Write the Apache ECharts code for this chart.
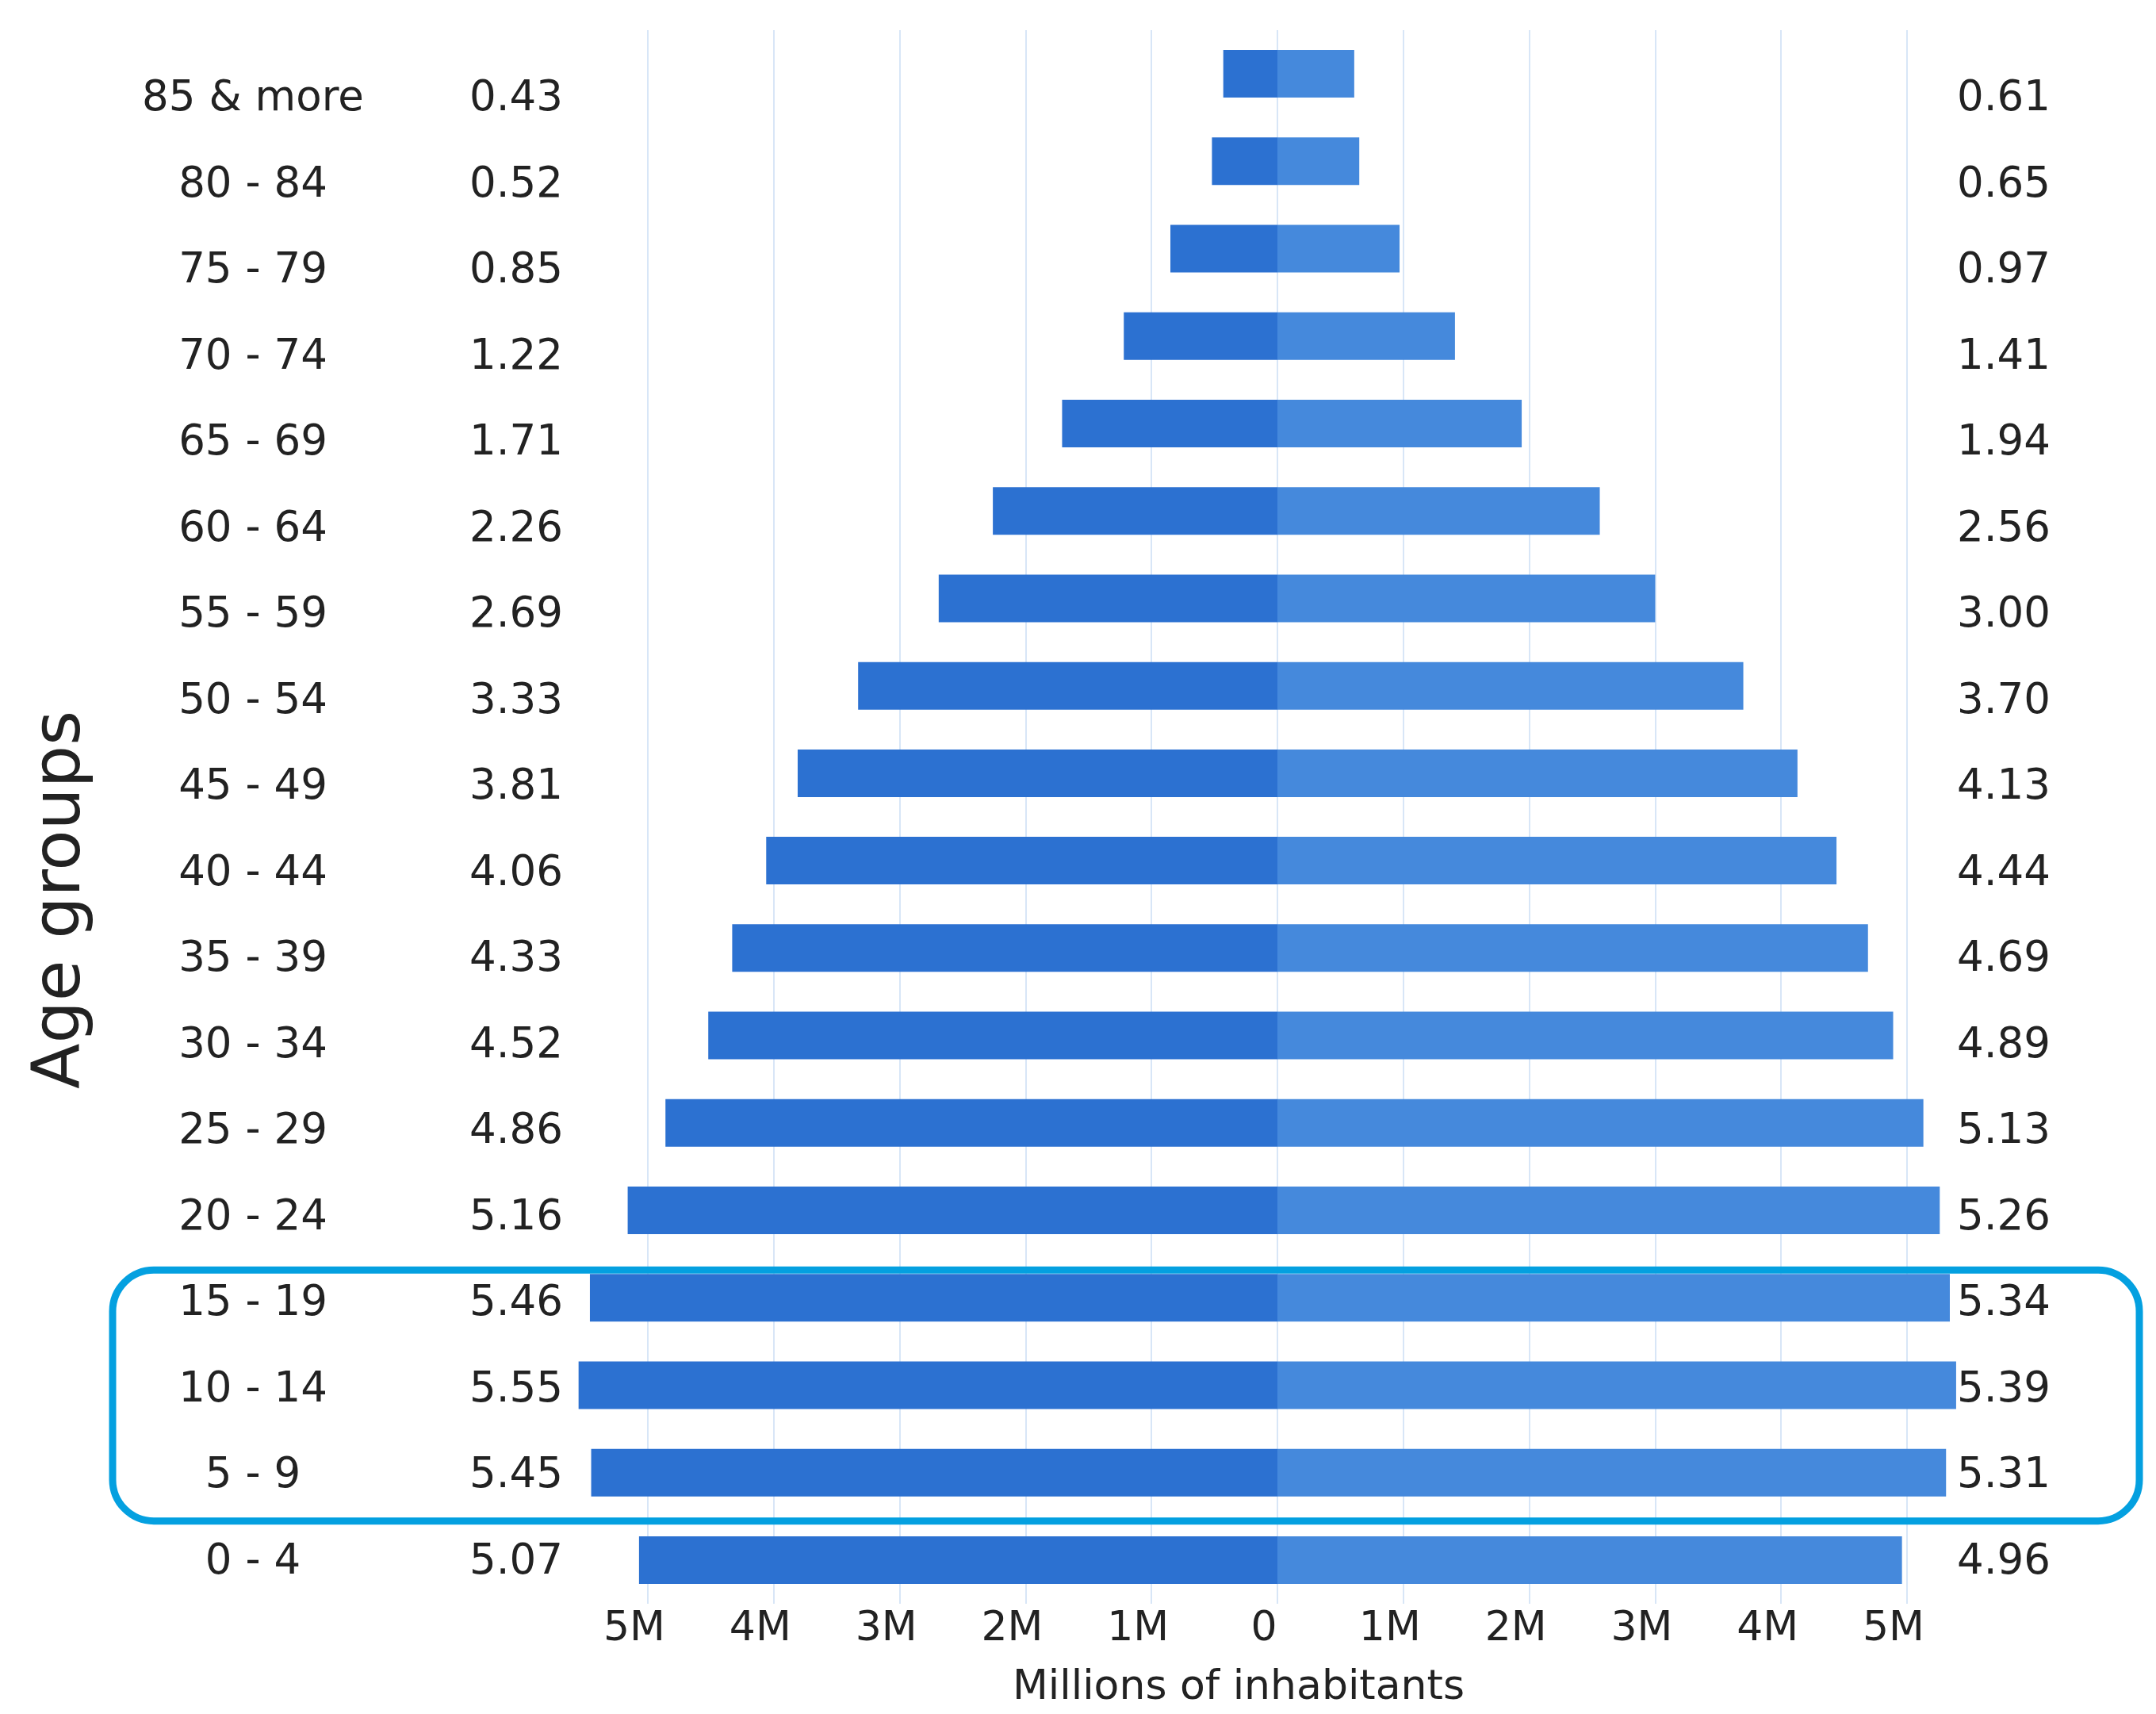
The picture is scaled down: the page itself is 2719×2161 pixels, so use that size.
<!DOCTYPE html>
<html>
<head>
<meta charset="utf-8">
<script src="https://cdn.jsdelivr.net/npm/echarts@6/dist/echarts.min.js"></script>
<style>
html,body{margin:0;padding:0;background:#ffffff;}
#chart{width:2719px;height:2161px;}
</style>
</head>
<body>
<div id="chart"></div>
<script>
// Age groups, listed top to bottom
var ageGroups = ['85 & more','80 - 84','75 - 79','70 - 74','65 - 69','60 - 64','55 - 59','50 - 54','45 - 49','40 - 44','35 - 39','30 - 34','25 - 29','20 - 24','15 - 19','10 - 14','5 - 9','0 - 4'];
// Left side values (millions)
var leftValues = [0.43,0.52,0.85,1.22,1.71,2.26,2.69,3.33,3.81,4.06,4.33,4.52,4.86,5.16,5.46,5.55,5.45,5.07];
// Right side values (millions)
var rightValues = [0.61,0.65,0.97,1.41,1.94,2.56,3.00,3.70,4.13,4.44,4.69,4.89,5.13,5.26,5.34,5.39,5.31,4.96];
// Axis ticks
var xTicks = [-5,-4,-3,-2,-1,0,1,2,3,4,5];
var xAxisTitle = 'Millions of inhabitants';
var yAxisTitle = 'Age groups';
var highlightGroups = ['15 - 19','5 - 9'];

var FONT = 'DejaVu Sans';
var chart = echarts.init(document.getElementById('chart'));

var option = {
  backgroundColor: '#ffffff',
  animation: false,
  grid: [
    {left: 817, right: 314, top: 38, bottom: 139, containLabel: false},
    {left: 700, right: 300, top: 71, bottom: 137, containLabel: false}
  ],
  xAxis: [
    {
      type: 'value', gridIndex: 0,
      min: xTicks[0], max: xTicks[xTicks.length - 1], interval: 1,
      axisLine: {show: false}, axisTick: {show: false},
      splitLine: {show: true, lineStyle: {color: '#d8e6f7', width: 2}},
      axisLabel: {
        show: true, margin: 6, color: '#222222', fontFamily: FONT, fontSize: 52,
        padding: [0, 34, 0, 0],
        formatter: function (v) { return v === 0 ? '0' : Math.abs(v) + 'M'; }
      },
      name: xAxisTitle, nameLocation: 'middle', nameGap: 80,
      nameTextStyle: {color: '#222222', fontFamily: FONT, fontSize: 52, padding: [0, 98, 0, 0]}
    },
    {type: 'value', gridIndex: 1, show: false, min: 0, max: 1}
  ],
  yAxis: [
    {
      type: 'category', gridIndex: 0, data: ageGroups, inverse: true,
      axisLine: {show: false}, axisTick: {show: false}, axisLabel: {show: false},
      splitLine: {show: false}
    },
    {
      type: 'category', gridIndex: 1, data: ageGroups, inverse: true, position: 'left',
      axisLine: {show: false}, axisTick: {show: false}, splitLine: {show: false},
      axisLabel: {show: true, margin: 381, align: 'center', color: '#222222', fontFamily: FONT, fontSize: 53},
      name: yAxisTitle, nameLocation: 'middle', nameRotate: 90, nameGap: 580,
      nameTextStyle: {color: '#222222', fontFamily: FONT, fontSize: 84, padding: [0, 174, 0, 0]}
    },
    {
      type: 'category', gridIndex: 1, data: ageGroups, inverse: true, position: 'left', offset: 0,
      axisLine: {show: false}, axisTick: {show: false}, splitLine: {show: false},
      axisLabel: {
        show: true, margin: 108, align: 'left', color: '#222222', fontFamily: FONT, fontSize: 53,
        formatter: function (v, i) { return leftValues[i].toFixed(2); }
      }
    },
    {
      type: 'category', gridIndex: 1, data: ageGroups, inverse: true, position: 'right',
      axisLine: {show: false}, axisTick: {show: false}, splitLine: {show: false},
      axisLabel: {
        show: true, margin: 108, align: 'center', color: '#222222', fontFamily: FONT, fontSize: 53,
        formatter: function (v, i) { return rightValues[i].toFixed(2); }
      }
    }
  ],
  series: [
    {
      name: 'Left', type: 'bar', xAxisIndex: 0, yAxisIndex: 0,
      data: leftValues.map(function (v) { return -v; }),
      barWidth: 60, barGap: '-100%', clip: false,
      itemStyle: {color: '#2c71d1'}, silent: true
    },
    {
      name: 'Right', type: 'bar', xAxisIndex: 0, yAxisIndex: 0,
      data: rightValues,
      barWidth: 60, barGap: '-100%', clip: false,
      itemStyle: {color: '#4589dc'}, silent: true
    }
  ]
};
chart.setOption(option);

// Highlight box around the selected age groups, positioned from the category axis
var yTop = chart.convertToPixel({yAxisIndex: 0}, highlightGroups[0]);
var yBot = chart.convertToPixel({yAxisIndex: 0}, highlightGroups[1]);
var boxTop = yTop - 35;
var boxBot = yBot + 61;
chart.setOption({
  graphic: [{
    type: 'rect', z: 100, silent: true,
    shape: {x: 142, y: boxTop, width: 2698 - 142, height: boxBot - boxTop, r: 52},
    style: {fill: 'none', stroke: '#04a0e0', lineWidth: 9}
  }]
});
</script>
</body>
</html>
